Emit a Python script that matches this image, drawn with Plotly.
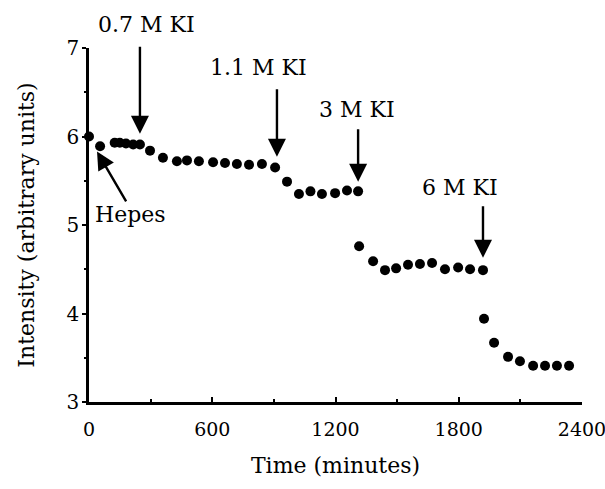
import plotly.graph_objects as go

# Data
time_min = [0, 54, 125, 150, 180, 215, 248, 297, 360, 428, 477, 535, 604, 662,
            720, 779, 842, 906, 964, 1022, 1078, 1134, 1198, 1256, 1310, 1315,
            1383, 1441, 1495, 1553, 1611, 1670, 1733, 1797, 1855, 1918, 1923,
            1972, 2040, 2098, 2162, 2220, 2278, 2337]
intensity = [6.00, 5.89, 5.93, 5.93, 5.92, 5.91, 5.91, 5.84, 5.76, 5.72, 5.73,
             5.72, 5.71, 5.70, 5.69, 5.68, 5.69, 5.65, 5.49, 5.35, 5.38, 5.35,
             5.36, 5.39, 5.38, 4.76, 4.59, 4.49, 4.51, 4.55, 4.56, 4.57, 4.50,
             4.52, 4.50, 4.49, 3.94, 3.67, 3.51, 3.46, 3.41, 3.41, 3.41, 3.41]

x_ticks = [0, 600, 1200, 1800, 2400]
y_ticks = [3, 4, 5, 6, 7]

event_labels = ["0.7 M KI", "1.1 M KI", "3 M KI", "6 M KI"]
event_times = [248, 915, 1310, 1918]

FONT = "DejaVu Serif"
FS = 22
TICK_FS = 19
Y_MIN, Y_MAX = 3, 7

fig = go.Figure()
fig.add_trace(go.Scatter(
    x=time_min, y=intensity, mode="markers",
    marker=dict(color="black", size=10, line=dict(width=0)),
    cliponaxis=False, showlegend=False,
))

# annotation geometry (tip y, tail y, label x, label y) in data units
arrow_geom = [
    (6.03, 7.03, 282, 7.27),
    (5.77, 6.55, 823, 6.78),
    (5.49, 6.10, 1305, 6.31),
    (4.63, 5.23, 1806, 5.42),
]
anns = []
for lab, t, (tip, tail, lx, ly) in zip(event_labels, event_times, arrow_geom):
    anns.append(dict(x=t, y=tip, ax=t, ay=tail, axref="x", ayref="y",
                     xref="x", yref="y", text="", showarrow=True,
                     arrowhead=2, arrowsize=1.5, arrowwidth=2.4,
                     arrowcolor="black", standoff=0, startstandoff=0))
    # label placed in paper units so it can sit above the plot area
    anns.append(dict(x=lx, y=(ly - Y_MIN) / (Y_MAX - Y_MIN), xref="x", yref="paper",
                     xanchor="center", yanchor="middle",
                     text=lab, showarrow=False,
                     font=dict(family=FONT, size=FS, color="black")))

# Hepes annotation
anns.append(dict(x=39, y=5.83, ax=185, ay=5.25, axref="x", ayref="y",
                 xref="x", yref="y", text="", showarrow=True,
                 arrowhead=2, arrowsize=1.5, arrowwidth=2.4,
                 arrowcolor="black", standoff=0))
anns.append(dict(x=204, y=5.12, xref="x", yref="y", text="Hepes",
                 xanchor="center", yanchor="middle",
                 showarrow=False, font=dict(family=FONT, size=FS, color="black")))

fig.update_layout(
    width=605, height=489,
    margin=dict(l=89, r=23, t=48, b=87),
    paper_bgcolor="white", plot_bgcolor="white",
    font=dict(family=FONT, size=FS, color="black"),
    annotations=anns,
    xaxis=dict(
        range=[0, 2400], tickvals=x_ticks, ticktext=[str(v) for v in x_ticks],
        showgrid=False, zeroline=False, showline=True, linecolor="black",
        linewidth=2.5, ticks="inside", ticklen=5, tickwidth=2, tickcolor="black",
        minor=dict(dtick=300, ticks="inside", ticklen=3, tickwidth=1.5, tickcolor="black"),
        ticklabelstandoff=8, ticklabeloverflow="allow", automargin=False,
        title=dict(text="Time (minutes)", standoff=20, font=dict(family=FONT, size=FS)),
        tickfont=dict(family=FONT, size=TICK_FS),
    ),
    yaxis=dict(
        range=[Y_MIN, Y_MAX], tickvals=y_ticks, ticktext=[str(v) for v in y_ticks],
        showgrid=False, zeroline=False, showline=True, linecolor="black",
        linewidth=2.5, ticks="outside", ticklen=4, tickwidth=2, tickcolor="black",
        minor=dict(dtick=0.5, ticks="outside", ticklen=2, tickwidth=1.5, tickcolor="black"),
        ticklabelstandoff=-1, automargin=False,
        title=dict(text="Intensity (arbitrary units)", standoff=26, font=dict(family=FONT, size=FS)),
        tickfont=dict(family=FONT, size=TICK_FS + 1),
    ),
)

fig.write_html("out.html")
